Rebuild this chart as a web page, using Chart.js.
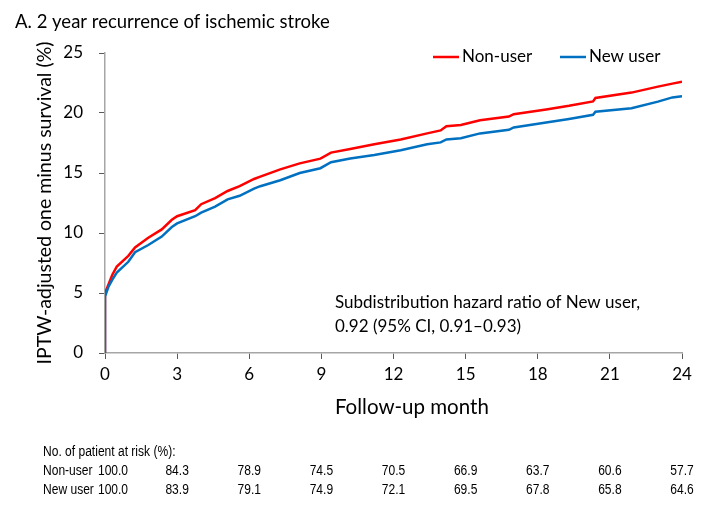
<!DOCTYPE html>
<html>
<head>
<meta charset="utf-8">
<script src="https://cdn.jsdelivr.net/npm/chart.js@4/dist/chart.umd.min.js"></script>
<style>
  html, body { margin: 0; padding: 0; background: #ffffff; }
  #c { display: block; }
</style>
</head>
<body>
<canvas id="c" width="727" height="510"></canvas>
<script>
// ---------- data ----------
const titleText = "A. 2 year recurrence of ischemic stroke";
const seriesNames = ["Non-user", "New user"];
const months = [0, 0, 0.14, 0.3, 0.49, 0.97, 1.25, 1.8, 2.36, 2.78, 3.0, 3.75, 4.0, 4.58, 5.1, 5.6, 6.2, 6.46, 7.29, 8.1, 8.96, 9.4, 10.2, 11.2, 12.3, 13.4, 13.96, 14.2, 14.8, 15.6, 16.8, 17.0, 18.35, 19.3, 20.3, 20.4, 21.9, 23.0, 23.6, 24.0];
const nonUserPct = [0, 5.0, 5.7, 6.5, 7.2, 8.1, 8.8, 9.6, 10.3, 11.1, 11.4, 11.9, 12.4, 12.9, 13.5, 13.9, 14.5, 14.7, 15.3, 15.8, 16.2, 16.7, 17.0, 17.4, 17.8, 18.3, 18.55, 18.9, 19.0, 19.4, 19.7, 19.9, 20.3, 20.6, 20.97, 21.25, 21.7, 22.2, 22.45, 22.6];
const newUserPct = [0, 4.7, 5.5, 6.1, 6.7, 7.6, 8.4, 9.0, 9.7, 10.5, 10.8, 11.4, 11.7, 12.2, 12.8, 13.1, 13.7, 13.9, 14.4, 15.0, 15.4, 15.9, 16.2, 16.5, 16.9, 17.4, 17.55, 17.8, 17.9, 18.3, 18.6, 18.8, 19.2, 19.5, 19.85, 20.1, 20.4, 20.95, 21.3, 21.4];
const xTicks = [0, 3, 6, 9, 12, 15, 18, 21, 24];
const yTicks = [0, 5, 10, 15, 20, 25];
const riskMonths = [0, 3, 6, 9, 12, 15, 18, 21, 24];
const riskNonUser = ["100.0", "84.3", "78.9", "74.5", "70.5", "66.9", "63.7", "60.6", "57.7"];
const riskNewUser = ["100.0", "83.9", "79.1", "74.9", "72.1", "69.5", "67.8", "65.8", "64.6"];
const riskHeader = "No. of patient at risk (%):";
const hrLines = ["Subdistribution hazard ratio of New user,", "0.92 (95% CI, 0.91\u20130.93)"];
const xTitle = "Follow-up month";
const yTitle = "IPTW-adjusted one minus survival (%)";

// ---------- styles ----------
const FONT = "Lato, 'Open Sans', sans-serif";
const TABLE_FONT = "14px 'Liberation Sans', Arial, sans-serif";
const TABLE_SQUEEZE = 0.86;
const RED = "#ff0000";
const BLUE = "#0070c0";
const TEXT = "#000000";

const toPoints = (xs, ys) => xs.map((x, i) => ({ x: x, y: ys[i] }));

function narrowText(ctx, text, x, y, align) {
  ctx.save();
  ctx.translate(x, y);
  ctx.scale(TABLE_SQUEEZE, 1);
  ctx.textAlign = align;
  ctx.fillText(text, 0, 0);
  ctx.restore();
}

const overlay = {
  id: "overlay",
  afterDraw(chart) {
    const ctx = chart.ctx;
    const xs = chart.scales.x;
    ctx.save();
    // title
    ctx.fillStyle = TEXT;
    ctx.textAlign = "left";
    ctx.textBaseline = "alphabetic";
    ctx.font = "18.5px " + FONT;
    ctx.fillText(titleText, 15, 28);

    // legend
    const ds = chart.data.datasets;
    const legendItems = [
      { x: 433, ds: ds[0] },
      { x: 560, ds: ds[1] }
    ];
    ctx.font = "17px " + FONT;
    ctx.textBaseline = "middle";
    legendItems.forEach(it => {
      ctx.strokeStyle = it.ds.borderColor;
      ctx.lineWidth = 2.5;
      ctx.beginPath();
      ctx.moveTo(it.x, 57);
      ctx.lineTo(it.x + 26, 57);
      ctx.stroke();
      ctx.fillStyle = TEXT;
      ctx.fillText(it.ds.label, it.x + 29, 57);
    });

    // hazard ratio annotation
    ctx.font = "17px " + FONT;
    ctx.fillText(hrLines[0], 335, 303);
    ctx.fillText(hrLines[1], 335, 327);

    // risk table
    ctx.font = TABLE_FONT;
    narrowText(ctx, riskHeader, 43, 452, "left");
    narrowText(ctx, seriesNames[0], 43, 471, "left");
    narrowText(ctx, seriesNames[1], 43, 490, "left");
    riskMonths.forEach((m, i) => {
      const px = xs.getPixelForValue(m) + (i === 0 ? 8 : 0);
      narrowText(ctx, riskNonUser[i], px, 471, "center");
      narrowText(ctx, riskNewUser[i], px, 490, "center");
    });
    ctx.restore();
  }
};

new Chart(document.getElementById("c"), {
  type: "line",
  data: {
    datasets: [
      {
        label: seriesNames[0],
        data: toPoints(months, nonUserPct),
        borderColor: RED,
        backgroundColor: RED,
        borderWidth: 2.5,
        pointRadius: 0,
        tension: 0,
        fill: false,
        order: 1
      },
      {
        label: seriesNames[1],
        data: toPoints(months, newUserPct),
        borderColor: BLUE,
        backgroundColor: BLUE,
        borderWidth: 2.5,
        pointRadius: 0,
        tension: 0,
        fill: false,
        order: 0
      }
    ]
  },
  options: {
    responsive: false,
    animation: false,
    devicePixelRatio: 1,
    layout: { padding: { left: 20, top: 53, right: 45, bottom: 87 } },
    plugins: {
      legend: { display: false },
      tooltip: { enabled: false },
      title: { display: false }
    },
    scales: {
      x: {
        type: "linear",
        min: 0,
        max: 24,
        afterBuildTicks: s => { s.ticks = xTicks.map(v => ({ value: v })); },
        afterFit: s => { s.height = 70; },
        grid: { display: true, drawOnChartArea: false, drawTicks: true, tickLength: 6, tickColor: "#595959", lineWidth: 1 },
        border: { display: true, color: "#a6a6a6", width: 1.5 },
        ticks: { color: TEXT, font: { family: FONT, size: 17 }, padding: 5, maxRotation: 0 },
        title: { display: true, text: "       " + xTitle, color: TEXT, font: { family: FONT, size: 20.5 }, padding: { top: 0, bottom: 3 } }
      },
      y: {
        type: "linear",
        min: 0,
        max: 25,
        afterBuildTicks: s => { s.ticks = yTicks.map(v => ({ value: v })); },
        afterFit: s => { s.width = 85; },
        grid: { display: true, drawOnChartArea: false, drawTicks: true, tickLength: 6, tickColor: "#595959", lineWidth: 1 },
        border: { display: true, color: "#a6a6a6", width: 1.5 },
        ticks: { color: TEXT, font: { family: FONT, size: 17 }, padding: 16 },
        title: { display: true, text: yTitle, color: TEXT, font: { family: FONT, size: 19.5 }, padding: { top: 13, bottom: 0 } }
      }
    }
  },
  plugins: [overlay]
});
</script>
</body>
</html>
